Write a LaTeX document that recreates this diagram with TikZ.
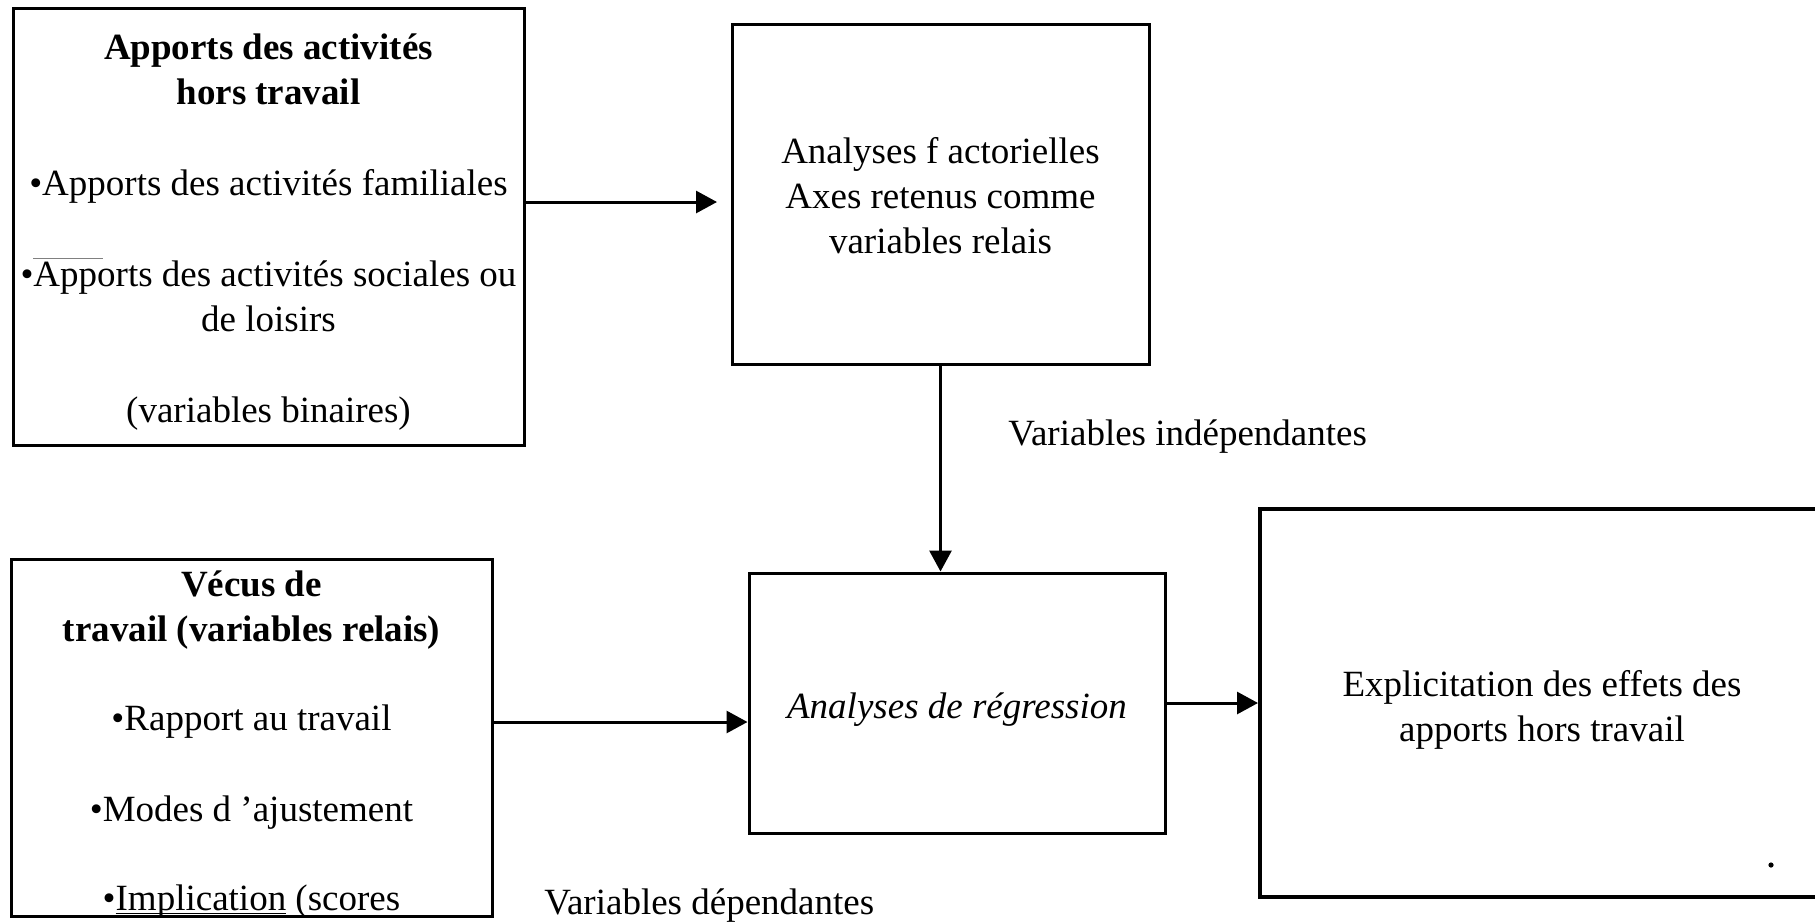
\documentclass[tikz,border=0pt]{standalone}
\usepackage{fontspec}
\setmainfont{Liberation Serif}
\usetikzlibrary{arrows.meta}
\begin{document}
\begin{tikzpicture}[x=0.5pt, y=-0.5pt,
  txt/.style={font=\fontsize{18.5}{22.5}\selectfont},
  box/.style={draw, line width=1.5pt, inner sep=0pt},
  boxtext/.style={txt, align=center, inner sep=0pt},
  arr/.style={line width=1.5pt, -{Triangle[length=10.5pt,width=11pt]}},
  lbl/.style={txt, inner sep=0pt, anchor=west}]
\clip (0,0) rectangle (1815,922);
\fill[white] (0,0) rectangle (1815,922);

% boxes
\node[box, minimum width=255.5pt, minimum height=218.5pt] (b1) at (268.5,226.5) {};
\node[box, minimum width=208.5pt, minimum height=170pt] (b2) at (940.5,194) {};
\node[box, minimum width=240.5pt, minimum height=178.5pt] (b3) at (251.5,737.5) {};
\node[box, minimum width=208pt, minimum height=130pt] (b4) at (957,703) {};
\node[box, line width=2pt, minimum width=282pt, minimum height=194pt] (b5) at (1542,703) {};

% box contents
\node[boxtext] (t1) at ([yshift=-3pt]b1.center)
  {\textbf{Apports des activités}\\\textbf{hors travail}\\[23pt]
   •Apports des activités familiales\\[23pt]
   •Apports des activités sociales ou\\de loisirs\\[23pt]
   (variables binaires)};
\node[boxtext] (t2) at ([yshift=-1pt]b2.center)
  {Analyses f actorielles\\Axes retenus comme\\variables relais};
\node[boxtext] (t3) at ([yshift=-3.5pt]b3.center)
  {\textbf{Vécus de}\\\textbf{travail (variables relais)}\\[22pt]
   •Rapport au travail\\[23pt]
   •Modes d ’ajustement\\[22pt]
   •\underline{\smash{Implication}} (scores};
\node[boxtext] (t4) at ([yshift=-3.5pt]b4.center)
  {\textit{Analyses de régression}};
\node[boxtext] (t5) at ([yshift=-3.5pt]b5.center)
  {Explicitation des effets des\\apports hors travail};

% stray mark above the second item of the first box
\draw[gray, line width=0.5pt] (33,258) -- (103,258);
\fill (1771,865) circle [radius=1.3pt];

% connectors
\coordinate (a1end) at (717,202);
\coordinate (a2y) at (600,722);
\draw[arr] (b1.east |- a1end) -- (a1end);
\draw[arr] (b2.south) -- (b2.south |- b4.north);
\draw[arr] (b3.east |- a2y) -- (b4.west |- a2y);
\draw[arr] (b4.east) -- (b5.west);

% labels
\node[lbl] (lind) at (1008,437) {Variables indépendantes};
\node[lbl] (ldep) at (544,906) {Variables dépendantes};
\end{tikzpicture}
\end{document}
